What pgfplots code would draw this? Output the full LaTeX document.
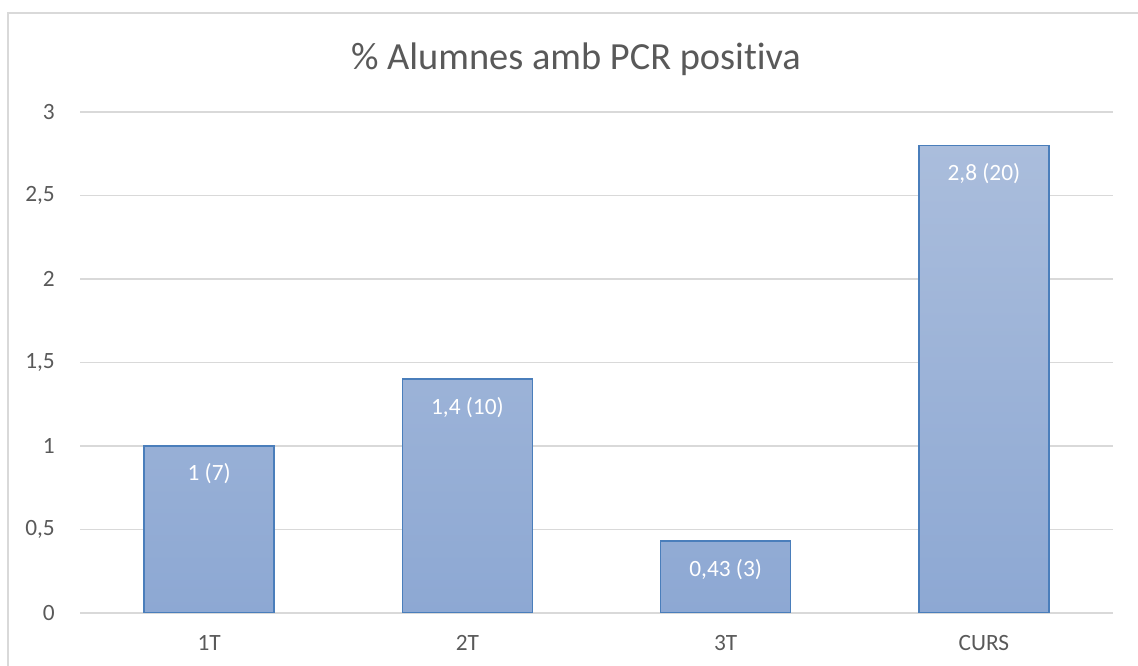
\documentclass[border=0pt]{standalone}
\usepackage{pgfplots}
\pgfplotsset{compat=1.18}
\usepackage{pgfplotstable}
\usepackage{fontspec}
\setmainfont{Carlito}[Ligatures=NoCommon]
\definecolor{txtgray}{HTML}{595959}
\definecolor{gridgray}{HTML}{D9D9D9}
\definecolor{barTop}{HTML}{AABDDC}
\definecolor{barBot}{HTML}{8DA8D3}
\definecolor{barEdge}{HTML}{4A7EBB}
\pgfplotstableread[col sep=semicolon]{
x;y;label
0;1;1 (7)
1;1.4;1,4 (10)
2;0.43;0,43 (3)
3;2.8;2,8 (20)
}\datatable
\begin{document}
\begin{tikzpicture}
\useasboundingbox (0,0) rectangle (853.5pt,499.5pt);
\draw[gridgray, line width=1.2pt] (6pt,-5pt) -- (6pt,489.75pt) -- (860pt,489.75pt);
\node[anchor=base, text=txtgray, font=\fontsize{28.8}{32}\selectfont] at (432pt,447pt) {\% Alumnes amb PCR positiva};
\begin{axis}[
  at={(60pt,39.75pt)}, anchor=south west,
  scale only axis, width=774.75pt, height=375.75pt,
  xmin=-0.5, xmax=3.5, ymin=0, ymax=3,
  ytick={0,0.5,1,1.5,2,2.5,3},
  xtick={0,1,2,3}, xticklabels={1T,2T,3T,CURS},
  major tick length=0pt,
  axis line style={draw=none},
  ymajorgrids, grid style={gridgray, line width=1pt},
  /pgf/number format/assume math mode=true,
  /pgf/number format/use comma,
  ticklabel style={text=txtgray, font=\fontsize{17.5}{20}\selectfont},
  yticklabel style={anchor=east, inner sep=0pt, xshift=-18.75pt},
  xticklabel style={anchor=base, inner sep=0pt, yshift=-28.5pt},
  ybar, bar width=97.5pt,
  nodes near coords,
  point meta=explicit symbolic,
  every node near coord/.style={anchor=center, yshift=-21pt, text=white, font=\fontsize{17.5}{20}\selectfont},
]
\addplot[draw=barEdge, line width=1.2pt, top color=barTop, bottom color=barBot] table[x=x, y=y, meta=label] {\datatable};
\end{axis}
\end{tikzpicture}
\end{document}
